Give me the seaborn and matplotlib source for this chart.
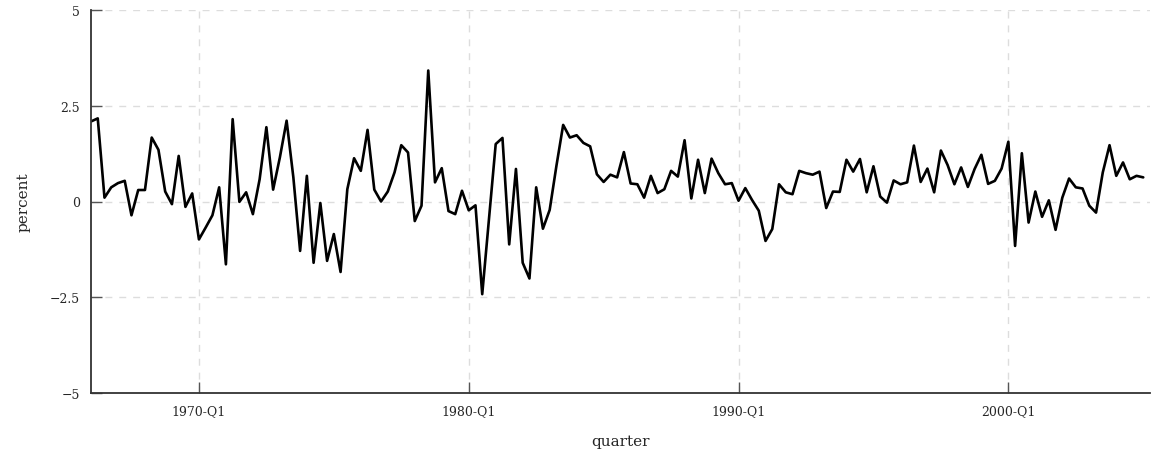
import pandas as pd
import matplotlib.pyplot as plt
import seaborn as sns

# quarterly percent change, 1966-Q1 .. 2005-Q1
quarters = pd.period_range("1966Q1", "2005Q1", freq="Q").strftime("%Y-Q%q").tolist()
values = [
    2.09, 2.17, 0.10, 0.37, 0.48, 0.54, -0.36, 0.30, 0.30, 1.67,
    1.35, 0.26, -0.07, 1.19, -0.14, 0.21, -0.99, -0.68, -0.36, 0.37,
    -1.64, 2.15, -0.01, 0.24, -0.33, 0.58, 1.94, 0.31, 1.15, 2.11,
    0.63, -1.29, 0.67, -1.60, -0.04, -1.55, -0.85, -1.84, 0.32, 1.13,
    0.80, 1.87, 0.31, 0.00, 0.26, 0.76, 1.47, 1.28, -0.51, -0.11,
    3.42, 0.50, 0.87, -0.25, -0.33, 0.28, -0.23, -0.10, -2.42, -0.46,
    1.50, 1.66, -1.12, 0.85, -1.60, -2.01, 0.37, -0.71, -0.22, 0.93,
    2.00, 1.67, 1.73, 1.53, 1.44, 0.71, 0.51, 0.70, 0.63, 1.29,
    0.47, 0.45, 0.10, 0.67, 0.22, 0.32, 0.80, 0.65, 1.60, 0.08,
    1.09, 0.22, 1.12, 0.74, 0.45, 0.48, 0.02, 0.35, 0.04, -0.24,
    -1.03, -0.72, 0.45, 0.24, 0.19, 0.80, 0.74, 0.70, 0.78, -0.17,
    0.26, 0.25, 1.09, 0.78, 1.11, 0.24, 0.92, 0.13, -0.03, 0.55,
    0.45, 0.50, 1.46, 0.51, 0.86, 0.24, 1.33, 0.95, 0.45, 0.89,
    0.38, 0.85, 1.22, 0.46, 0.54, 0.86, 1.56, -1.16, 1.26, -0.55,
    0.26, -0.40, 0.03, -0.74, 0.10, 0.60, 0.37, 0.34, -0.11, -0.29,
    0.76, 1.47, 0.67, 1.02, 0.58, 0.67, 0.63,
]
tick_labels = ["1970-Q1", "1980-Q1", "1990-Q1", "2000-Q1"]
y_ticks = [-5, -2.5, 0, 2.5, 5]

df = pd.DataFrame({"quarter": range(len(values)), "percent": values})

sns.set_style("white")
plt.rcParams["font.family"] = ["DejaVu Serif"]

fig, ax = plt.subplots(figsize=(11.65, 4.6), dpi=100)
fig.subplots_adjust(left=91 / 1165, right=1150 / 1165, top=1 - 11 / 460, bottom=1 - 394 / 460)

sns.lineplot(data=df, x="quarter", y="percent", color="black", linewidth=1.9, ax=ax)

ax.set_xlim(0, len(values))
ax.set_ylim(-5, 5)
ax.set_xticks([quarters.index(t) for t in tick_labels])
ax.set_xticklabels(tick_labels)
ax.set_yticks(y_ticks)
ax.set_yticklabels(["\u22125", "\u22122.5", "0", "2.5", "5"])

ax.grid(True, linestyle=(0, (5, 5)), color="#dddddd", linewidth=1)
ax.tick_params(bottom=True, left=True, direction="in", length=8, width=1,
               color="#555555", labelsize=9, pad=8)
sns.despine(ax=ax)
for s in ["left", "bottom"]:
    ax.spines[s].set_color("#333333")
    ax.spines[s].set_linewidth(1.3)

ax.set_xlabel("quarter", fontsize=11, labelpad=12)
ax.set_ylabel("percent", fontsize=11, labelpad=14)

plt.savefig("out.png")
